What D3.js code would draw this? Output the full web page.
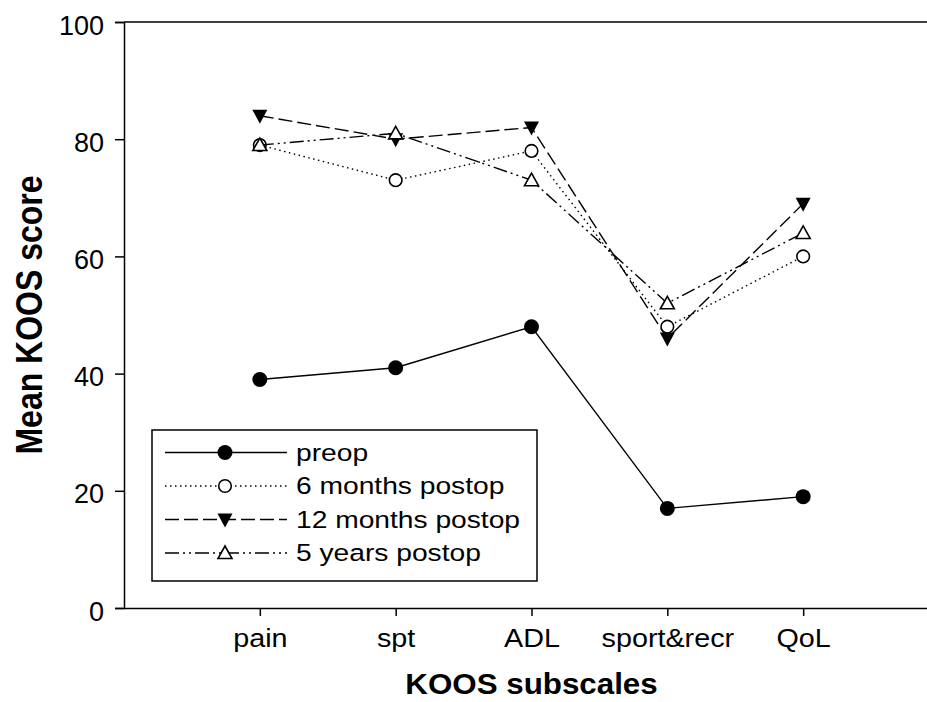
<!DOCTYPE html>
<html>
<head>
<meta charset="utf-8">
<script src="https://cdn.jsdelivr.net/npm/d3@7"></script>
<style>
  body { margin: 0; background: #fff; }
  text { font-family: "Liberation Sans", Arial, sans-serif; fill: #000; }
</style>
</head>
<body>
<script>
// data
var subscales = ["pain", "spt", "ADL", "sport&recr", "QoL"];
var preop     = [39, 41, 48, 17, 19];
var months6   = [79, 73, 78, 48, 60];
var months12  = [84, 80, 82, 46, 69];
var years5    = [79, 81, 73, 52, 64];
var seriesNames = ["preop", "6 months postop", "12 months postop", "5 years postop"];
var yTicks = [0, 20, 40, 60, 80, 100];

var series = [
  { name: seriesNames[0], values: preop,    dash: null,           marker: "dot" },
  { name: seriesNames[1], values: months6,  dash: "1.5,3.5",      marker: "circle" },
  { name: seriesNames[2], values: months12, dash: "14,5",         marker: "down" },
  { name: seriesNames[3], values: years5,   dash: "14,4,2,4,2,4", marker: "up" }
];

// the original figure looks a bit stretched sideways, text too
var stretch = 1.15;

var W = 927, H = 702;
var svg = d3.select("body").append("svg").attr("width", W).attr("height", H);

var x = d3.scaleLinear().domain([0, 6]).range([124, 939]);
var y = d3.scaleLinear().domain([0, 100]).range([608, 22]);

// frame top line
svg.append("line")
  .attr("x1", x(0)).attr("x2", W).attr("y1", y(100)).attr("y2", y(100))
  .attr("stroke", "#000").attr("stroke-width", 1.5);

// y axis
var yAxis = d3.axisLeft(y).tickValues(yTicks).tickSize(9).tickPadding(11);
var gy = svg.append("g").attr("transform", "translate(" + x(0) + ",0)").call(yAxis);
gy.select(".domain").attr("stroke-width", 1.5);
gy.selectAll(".tick line").attr("stroke-width", 1.5);
gy.selectAll("text").attr("font-size", 27).attr("dy", "0.45em")
  .attr("font-family", "Liberation Sans, Arial, sans-serif").attr("fill", "#000");

// x axis
var xAxis = d3.axisBottom(x).tickValues([1, 2, 3, 4, 5])
  .tickFormat(function(d) { return subscales[d - 1]; })
  .tickSize(8).tickSizeOuter(0).tickPadding(13);
var gx = svg.append("g").attr("transform", "translate(0," + y(0) + ")").call(xAxis);
gx.select(".domain").attr("stroke-width", 1.5);
gx.selectAll(".tick line").attr("stroke-width", 1.5);
gx.selectAll("text").attr("font-size", 25)
  .attr("transform", "scale(" + stretch + ",1)")
  .attr("font-family", "Liberation Sans, Arial, sans-serif").attr("fill", "#000");

// axis titles
svg.append("text")
  .attr("transform", "translate(" + x(3) + ",694) scale(1.08,1)")
  .attr("text-anchor", "middle").attr("font-size", 29).attr("font-weight", "bold")
  .text("KOOS subscales");
svg.append("text")
  .attr("transform", "translate(42," + y(50) + ") scale(" + stretch + ",1) rotate(-90)")
  .attr("text-anchor", "middle").attr("font-size", 32).attr("font-weight", "bold")
  .text("Mean KOOS score");

// markers
function drawMarker(g, type, cx, cy) {
  if (type === "dot") {
    g.append("circle").attr("cx", cx).attr("cy", cy).attr("r", 7.5).attr("fill", "#000");
  } else if (type === "circle") {
    g.append("circle").attr("cx", cx).attr("cy", cy).attr("r", 6.3)
      .attr("fill", "#fff").attr("stroke", "#000").attr("stroke-width", 1.6);
  } else if (type === "down") {
    g.append("path")
      .attr("d", "M" + (cx - 7.5) + "," + (cy - 6) + "L" + (cx + 7.5) + "," + (cy - 6) + "L" + cx + "," + (cy + 8) + "Z")
      .attr("fill", "#000");
  } else {
    g.append("path")
      .attr("d", "M" + (cx - 7) + "," + (cy + 5.5) + "L" + (cx + 7) + "," + (cy + 5.5) + "L" + cx + "," + (cy - 7) + "Z")
      .attr("fill", "#fff").attr("stroke", "#000").attr("stroke-width", 1.6);
  }
}

var line = d3.line()
  .x(function(d, i) { return x(i + 1); })
  .y(function(d) { return y(d); });

series.forEach(function(s) {
  var g = svg.append("g");
  g.append("path")
    .attr("d", line(s.values))
    .attr("fill", "none").attr("stroke", "#000").attr("stroke-width", 1.4)
    .attr("stroke-dasharray", s.dash);
  s.values.forEach(function(v, i) { drawMarker(g, s.marker, x(i + 1), y(v)); });
});

// legend
var lg = svg.append("g");
lg.append("rect").attr("x", 152).attr("y", 430).attr("width", 385).attr("height", 151)
  .attr("fill", "#fff").attr("stroke", "#000").attr("stroke-width", 1.5);
series.forEach(function(s, i) {
  var ly = 452.5 + i * 33.5;
  lg.append("line").attr("x1", 165).attr("x2", 287).attr("y1", ly).attr("y2", ly)
    .attr("stroke", "#000").attr("stroke-width", 1.4).attr("stroke-dasharray", s.dash);
  drawMarker(lg, s.marker, 225, ly);
  lg.append("text")
    .attr("transform", "translate(296," + (ly + 8) + ") scale(1.2,1)")
    .attr("font-size", 23.5).text(s.name);
});
</script>
</body>
</html>
